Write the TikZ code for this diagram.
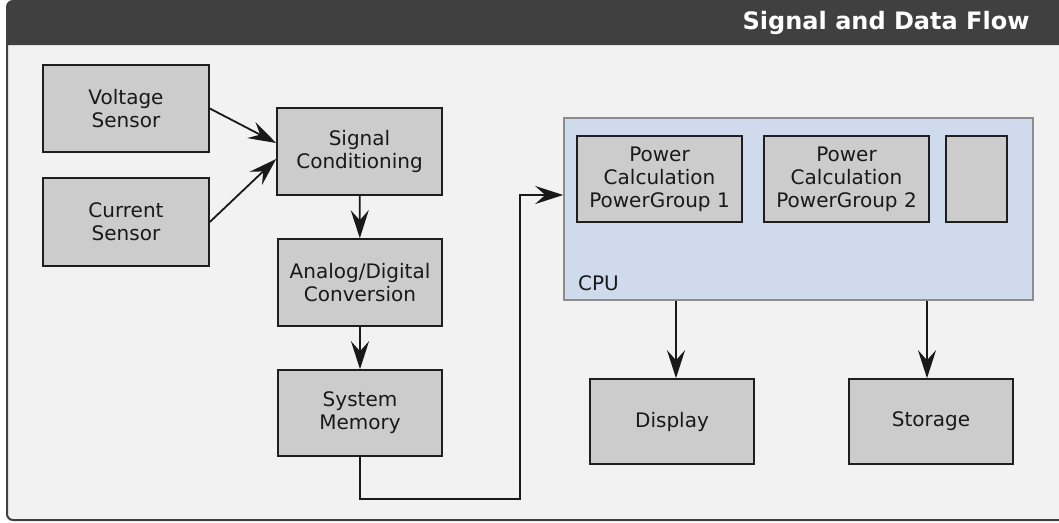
\documentclass[tikz,border=0pt]{standalone}
\usepackage{fontspec}
\setmainfont{DejaVu Sans}
\usetikzlibrary{arrows.meta}

\definecolor{panelbg}{HTML}{F2F2F2}
\definecolor{titlebar}{HTML}{404040}
\definecolor{boxfill}{HTML}{CCCCCC}
\definecolor{boxline}{HTML}{1E1E1E}
\definecolor{cpufill}{HTML}{CFDAEC}
\definecolor{cpuline}{HTML}{8C8C8C}

\tikzset{
  block/.style={draw=boxline, fill=boxfill, line width=1.6pt, align=center,
    font=\fontsize{20}{23}\selectfont, text=black!90, inner sep=0pt},
  flow/.style={draw=black!90, line width=1.8pt,
    -{Stealth[length=28pt,width=18pt,inset=10pt]}},
}

\begin{document}
\begin{tikzpicture}[x=1pt,y=-1pt]
	\useasboundingbox (0,0) rectangle (1059,522);

	% panel and title bar
	\draw[fill=panelbg, draw=titlebar, line width=2pt, rounded corners=6pt] (7,1) rectangle (1075,520);
	\fill[titlebar] (7,45) [rounded corners=6pt] |- (1075,1) [sharp corners] -- (1075,45) -- cycle;
	\node (title) [anchor=east, text=white, font=\fontsize{24}{28}\selectfont\bfseries] at (1033,23) {Signal and Data Flow};

	% acquisition chain
	\node (volt) [block, minimum width=166pt, minimum height=87pt] at (126,108.5) {Voltage\\Sensor};
	\node (curr) [block, minimum width=166pt, minimum height=88pt] at (126,222) {Current\\Sensor};
	\node (cond) [block, minimum width=165pt, minimum height=87pt] at (359.5,151.5) {Signal\\Conditioning};
	\node (adc) [block, minimum width=164pt, minimum height=87pt] at (360,282.5) {Analog/Digital\\Conversion};
	\node (mem) [block, minimum width=164pt, minimum height=86pt] at (360,413) {System\\Memory};

	% processor
	\node (cpu) [draw=cpuline, fill=cpufill, line width=1.6pt, minimum width=469pt, minimum height=182pt, inner sep=0pt] at (798.5,209) {};
	\node (cpulabel) [anchor=base west, font=\fontsize{20}{23}\selectfont, text=black!90, inner sep=0pt] at (578,290) {CPU};
	\node (pg1) [block, minimum width=165pt, minimum height=86pt] at (659.5,179) {Power\\Calculation\\PowerGroup 1};
	\node (pg2) [block, minimum width=165pt, minimum height=86pt] at (846.5,179) {Power\\Calculation\\PowerGroup 2};
	\node (pg3) [block, minimum width=61pt, minimum height=86pt] at (976.5,179) {};

	% outputs
	\node (disp) [block, minimum width=164pt, minimum height=85pt] at (672,421.5) {Display};
	\node (stor) [block, minimum width=164pt, minimum height=85pt] at (931,421.5) {Storage};

	% connectors
	\draw[flow] (volt.east) -- ([yshift=8.5pt]cond.west);
	\draw[flow] (curr.east) -- ([yshift=-7.5pt]cond.west);
	\draw[flow] (cond) -- (adc);
	\draw[flow] (adc) -- (mem);
	\coordinate (turn) at (520,499);
	\draw[flow] (mem.south) |- (turn) |- ([yshift=14pt]cpu.west);
	\draw[flow] ([xshift=4pt]cpu.south -| disp.north) -- ([xshift=4pt]disp.north);
	\draw[flow] ([xshift=-4pt]cpu.south -| stor.north) -- ([xshift=-4pt]stor.north);
\end{tikzpicture}
\end{document}
